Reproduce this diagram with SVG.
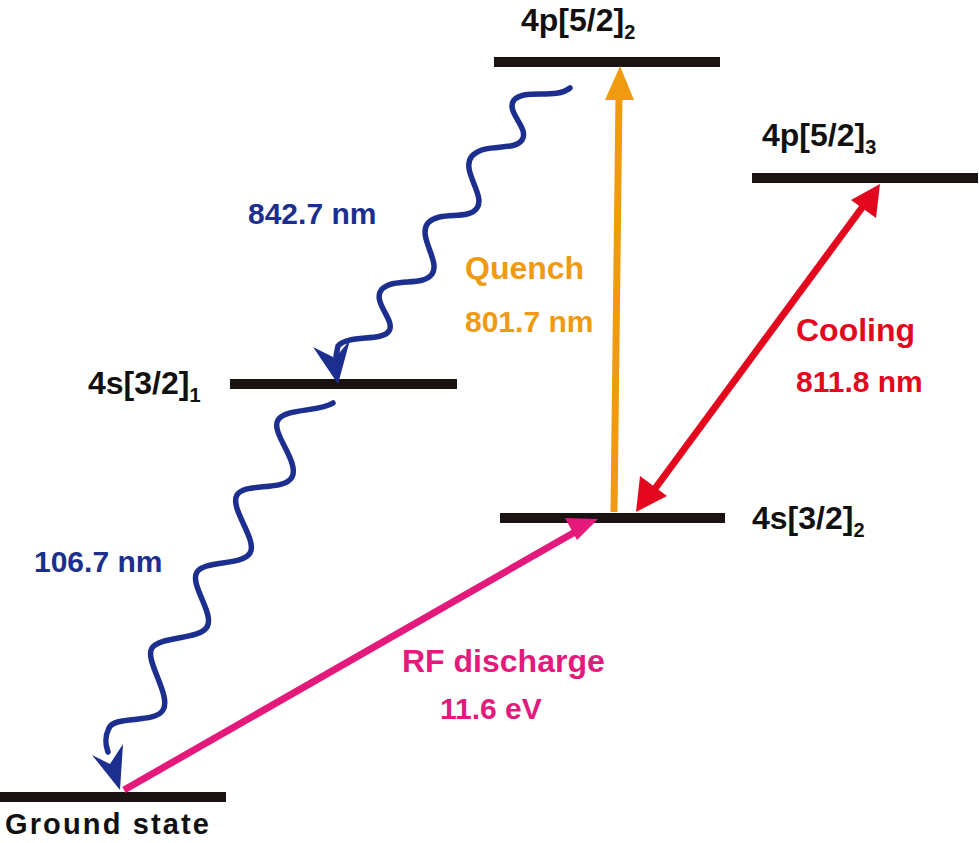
<svg xmlns="http://www.w3.org/2000/svg" width="979" height="843" viewBox="0 0 979 843">
<style>
.lv{stroke:#1a1311;stroke-width:10}
text{font-family:"Liberation Sans",Arial,sans-serif;font-weight:bold}
.lb{font-size:32px;fill:#111}
.t{font-size:30px}
.big{font-size:32px}
.w{fill:none;stroke:#1c2f8f;stroke-width:5.5;stroke-linecap:round}
</style>
<rect width="979" height="843" fill="#fff"/>
<g id="levels">
<g id="ground"><line class="lv" x1="0" y1="797" x2="226" y2="797"/><text class="lb" x="5" y="834" style="font-size:29px" textLength="204">Ground state</text></g>
<g id="s1"><line class="lv" x1="230" y1="384" x2="457" y2="384"/><text class="lb" x="88" y="394">4s[3/2]<tspan font-size="20" dy="8">1</tspan></text></g>
<g id="s2"><line class="lv" x1="500" y1="518" x2="725" y2="518"/><text class="lb" x="752" y="529">4s[3/2]<tspan font-size="20" dy="8">2</tspan></text></g>
<g id="p2"><line class="lv" x1="494" y1="62" x2="720" y2="62"/><text class="lb" x="521" y="31">4p[5/2]<tspan font-size="20" dy="8">2</tspan></text></g>
<g id="p3"><line class="lv" x1="752" y1="178" x2="978" y2="178"/><text class="lb" x="762" y="146">4p[5/2]<tspan font-size="20" dy="8">3</tspan></text></g>
</g>
<g id="connectors">
<path class="w" d="M570,88 C555,100 525,88 514,100 C505,112 530,128 522,140 C513,152 486,142 472,156 C460,170 486,195 477,208 C468,221 440,210 428,223 C417,236 441,262 432,274 C423,287 395,277 382,289 C371,302 396,320 389,331 C382,342 348,334 338,346 L336,356"/>
<polygon fill="#1c2f8f" points="338,384 313,347 335,358 350,340"/>
<path class="w" d="M333,403 C320,412 285,408 278,420 C270,432 300,462 292,477 C284,492 245,482 237,495 C229,508 258,540 250,553 C242,566 205,560 197,572 C189,584 215,614 207,627 C199,640 160,636 152,648 C144,660 172,696 163,710 C155,724 115,715 109,728 C103,740 107,748 108,752"/>
<polygon fill="#1c2f8f" points="120,790 92,755 110,764 123,744"/>
<line x1="124" y1="790" x2="575" y2="532" stroke="#e4197c" stroke-width="7"/>
<polygon fill="#e4197c" points="598,519 565,518 577,540"/>
<line x1="614" y1="512" x2="619" y2="95" stroke="#f09a0f" stroke-width="7"/>
<polygon fill="#f09a0f" points="620,66 605,100 634,100"/>
<line x1="654" y1="490" x2="864" y2="205" stroke="#e4081f" stroke-width="7"/>
<polygon fill="#e4081f" points="636,512 640,476 667,496"/>
<polygon fill="#e4081f" points="880,184 851,200 876,218"/>
</g>
<g id="labels">
<text class="t" x="248" y="224" fill="#1c2f8f">842.7 nm</text>
<text class="t" x="34" y="572" fill="#1c2f8f">106.7 nm</text>
<text class="big" x="465" y="279" fill="#f09a0f">Quench</text>
<text class="t" x="465" y="332" fill="#f09a0f">801.7 nm</text>
<text class="big" x="796" y="341" fill="#e4081f">Cooling</text>
<text class="t" x="796" y="392" fill="#e4081f">811.8 nm</text>
<text class="big" x="402" y="672" fill="#e4197c">RF discharge</text>
<text class="t" x="440" y="719" fill="#e4197c">11.6 eV</text>
</g>
</svg>
